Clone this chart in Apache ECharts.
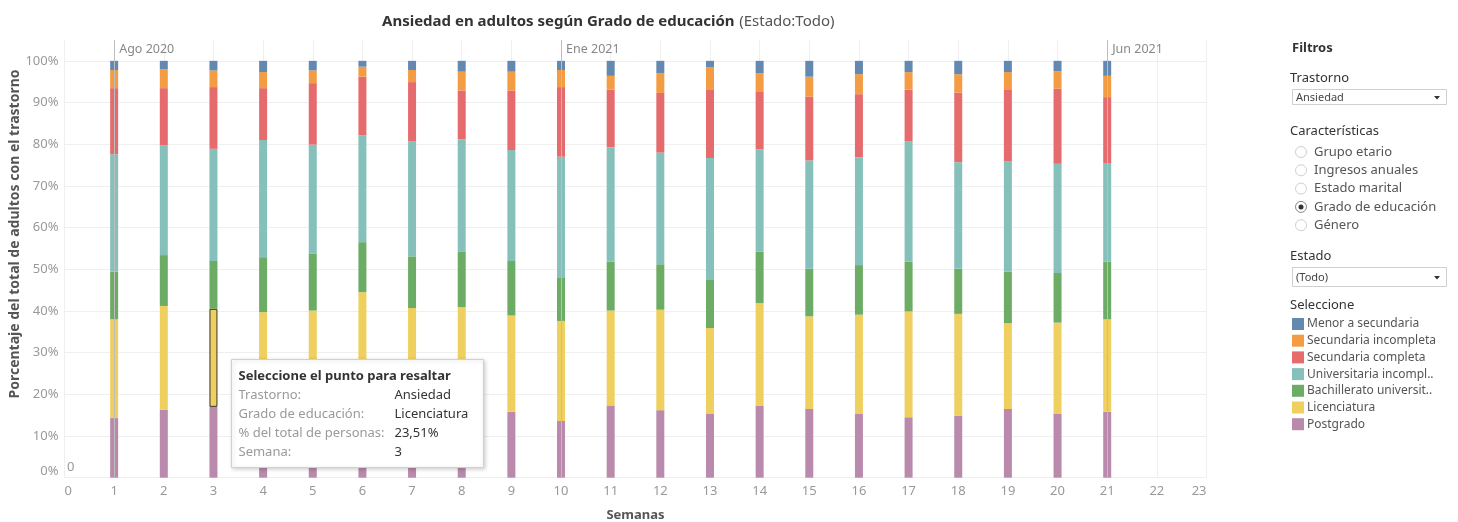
<!DOCTYPE html>
<html>
<head>
<meta charset="utf-8">
<script src="https://cdn.jsdelivr.net/npm/echarts@6/dist/echarts.min.js"></script>
<style>
html,body{margin:0;padding:0;background:#fff;}
#chart{width:1458px;height:522px;}
</style>
</head>
<body>
<div id="chart"></div>
<script>
// ---- Data (percent of adults with the disorder, by education level, per week) ----
const axisWeeks = [0,1,2,3,4,5,6,7,8,9,10,11,12,13,14,15,16,17,18,19,20,21,22,23];
const weeks = [1,2,3,4,5,6,7,8,9,10,11,12,13,14,15,16,17,18,19,20,21];
const menorSecundaria = [2.2,2.0,2.3,2.7,2.3,1.4,2.2,2.6,2.6,2.2,3.6,3.0,1.5,3.0,3.8,3.2,2.7,3.2,2.7,2.5,3.6];
const secundariaIncompleta = [4.35,4.55,4.0,3.85,3.05,2.4,2.9,4.5,4.5,4.1,3.3,4.7,5.5,4.3,4.8,4.8,4.2,4.4,4.3,4.2,5.1];
const secundariaCompleta = [15.85,13.75,14.8,12.45,14.75,14.1,14.2,11.7,14.3,16.7,13.8,14.3,16.3,13.9,15.3,15.1,12.4,16.7,17.1,18.0,15.8];
const universitariaIncompleta = [28.2,26.3,26.9,28.1,26.1,25.6,27.6,26.9,26.6,29.1,27.5,26.8,29.1,24.6,26.0,25.9,28.9,25.6,26.5,26.2,23.7];
const bachilleratoUniversitario = [11.4,12.2,11.49,13.2,13.7,12.0,12.4,13.4,13.1,10.3,11.7,10.9,11.7,12.3,11.4,11.9,11.9,10.8,12.3,11.9,13.8];
const licenciatura = [23.7,24.9,23.51,23.7,24.6,28.5,25.7,24.9,23.1,24.0,22.9,24.1,20.6,24.7,22.2,23.8,25.4,24.4,20.6,21.9,22.2];
const postgrado = [14.3,16.3,17.0,16.0,15.5,16.0,15.0,16.0,15.8,13.6,17.2,16.2,15.3,17.2,16.5,15.3,14.5,14.9,16.5,15.3,15.8];

const seriesNames = ['Postgrado','Licenciatura','Bachillerato universitario','Universitaria incompleta','Secundaria completa','Secundaria incompleta','Menor a secundaria'];
const seriesValues = [postgrado, licenciatura, bachilleratoUniversitario, universitariaIncompleta, secundariaCompleta, secundariaIncompleta, menorSecundaria];
const seriesColors = ['#b98aac','#efcf5e','#6dac64','#86c0bb','#e56b6d','#f49c44','#6389b1'];

const refWeeks = [1,10,21];
const refLabels = ['Ago 2020','Ene 2021','Jun 2021'];

const yTicks = [0,10,20,30,40,50,60,70,80,90,100];

const highlightSeries = 'Licenciatura';
const highlightWeek = 3;

const FONT = '"Noto Sans", sans-serif';

function toAxisData(arr, name){
  return axisWeeks.map(w => {
    const i = weeks.indexOf(w);
    if (i < 0) return null;
    if (name === highlightSeries && w === highlightWeek) {
      return {value: arr[i], itemStyle: {borderColor:'#333', borderWidth:1}};
    }
    return arr[i];
  });
}

const series = seriesNames.map((name, k) => {
  const s = {
    name: name,
    type: 'bar',
    stack: 'total',
    barWidth: 8,
    data: toAxisData(seriesValues[k], name),
    itemStyle: {color: seriesColors[k]},
    emphasis: {disabled: true},
    silent: true
  };
  if (k === seriesNames.length - 1) {
    s.markLine = {
      silent: true,
      symbol: ['none','none'],
      label: {show:false},
      lineStyle: {color:'#bdbdbd', type:'solid', width:1},
      data: refWeeks.map(w => ({xAxis: String(w)})),
      z: 10
    };
  }
  return s;
});

const hiIdx = weeks.indexOf(highlightWeek);
const hiVal = licenciatura[hiIdx].toFixed(2).replace('.', ',') + '%';

const tipRows = [
  ['Trastorno:', 'Ansiedad'],
  ['Grado de educación:', highlightSeries],
  ['% del total de personas:', hiVal],
  ['Semana:', String(highlightWeek)]
];

const TZ = 100;
const tipChildren = [
  {type:'rect', z:TZ, shape:{x:0,y:0,width:252,height:108}, style:{fill:'#fff', stroke:'#d0d0d0', lineWidth:1, shadowBlur:4, shadowColor:'rgba(0,0,0,0.18)', shadowOffsetX:1, shadowOffsetY:1}},
  {type:'text', z:TZ+1, x:7, y:17, style:{text:'Seleccione el punto para resaltar', font:'bold 13px '+FONT, fill:'#333', verticalAlign:'middle'}}
];
tipRows.forEach((r, i) => {
  tipChildren.push({type:'text', z:TZ+1, x:7, y:36 + i*19, style:{text:r[0], font:'13px '+FONT, fill:'#9a9a9a', verticalAlign:'middle'}});
  tipChildren.push({type:'text', z:TZ+1, x:163, y:36 + i*19, style:{text:r[1], font:'13px '+FONT, fill:'#333', verticalAlign:'middle'}});
});

const radioOpts = ['Grupo etario','Ingresos anuales','Estado marital','Grado de educación','Género'];
const radioSel = 3;

const panel = [];
panel.push({type:'text', x:1292, y:48, style:{text:'Filtros', font:'bold 13px '+FONT, fill:'#333', verticalAlign:'middle'}});
panel.push({type:'text', x:1290, y:78, style:{text:'Trastorno', font:'13px '+FONT, fill:'#333', verticalAlign:'middle'}});
panel.push({type:'rect', shape:{x:1292.5,y:89.5,width:154,height:15}, style:{fill:'#fff', stroke:'#cfcfcf', lineWidth:1}});
panel.push({type:'text', x:1296, y:97.5, style:{text:'Ansiedad', font:'11px '+FONT, fill:'#444', verticalAlign:'middle'}});
panel.push({type:'polygon', shape:{points:[[1434,96],[1440,96],[1437,99.5]]}, style:{fill:'#333'}});
panel.push({type:'text', x:1290, y:131, style:{text:'Características', font:'13px '+FONT, fill:'#333', verticalAlign:'middle'}});
radioOpts.forEach((t, i) => {
  const cy = 152 + i*18.3;
  panel.push({type:'circle', shape:{cx:1301, cy:cy, r:5.5}, style:{fill:'#fff', stroke: i===radioSel ? '#888' : '#d0d0d0', lineWidth:1}});
  if (i === radioSel) panel.push({type:'circle', shape:{cx:1301, cy:cy, r:2.5}, style:{fill:'#333'}});
  panel.push({type:'text', x:1314, y:cy, style:{text:t, font:'13px '+FONT, fill:'#555', verticalAlign:'middle'}});
});
panel.push({type:'text', x:1290, y:256, style:{text:'Estado', font:'13px '+FONT, fill:'#333', verticalAlign:'middle'}});
panel.push({type:'rect', shape:{x:1292.5,y:267.5,width:154,height:19}, style:{fill:'#fff', stroke:'#cfcfcf', lineWidth:1}});
panel.push({type:'text', x:1296, y:277.5, style:{text:'(Todo)', font:'11px '+FONT, fill:'#444', verticalAlign:'middle'}});
panel.push({type:'polygon', shape:{points:[[1434,276],[1440,276],[1437,279.5]]}, style:{fill:'#333'}});
panel.push({type:'text', x:1290, y:305, style:{text:'Seleccione', font:'13px '+FONT, fill:'#333', verticalAlign:'middle'}});

const chart = echarts.init(document.getElementById('chart'), null, {renderer:'canvas'});
chart.setOption({
  animation: false,
  backgroundColor: '#fff',
  textStyle: {fontFamily: FONT},
  title: {
    left: 377, top: 8,
    text: '{b|Ansiedad en adultos según Grado de educación} {n|(Estado:Todo)}',
    textStyle: {
      rich: {
        b: {fontFamily: FONT, fontSize: 15, fontWeight: 'bold', color: '#333'},
        n: {fontFamily: FONT, fontSize: 15, fontWeight: 'normal', color: '#555'}
      }
    }
  },
  legend: {
    orient: 'vertical',
    left: 1292, top: 318, padding: 0,
    itemWidth: 12, itemHeight: 12, itemGap: 4.7,
    icon: 'rect',
    selectedMode: false,
    data: seriesNames.slice().reverse(),
    textStyle: {fontFamily: FONT, fontSize: 12, lineHeight: 12, color: '#555', width: 131, overflow: 'truncate', ellipsis: '..', padding:[0,0,0,-2]}
  },
  grid: {left: 64.5, right: 251.5, top: 40, bottom: 44.3, containLabel: false, outerBoundsMode: 'none'},
  xAxis: [
    {
      type: 'category', data: axisWeeks.map(String), boundaryGap: false, position: 'bottom',
      name: 'Semanas', nameLocation: 'middle', nameGap: 31,
      nameTextStyle: {fontFamily: FONT, fontSize: 13, fontWeight: 'bold', color: '#555'},
      axisLine: {show: false}, axisTick: {show: false},
      axisLabel: {interval: 0, color: '#999', fontSize: 13, margin: 7, alignMinLabel: 'left', alignMaxLabel: 'right'},
      splitLine: {show: true, interval: 0, lineStyle: {color: '#efefef', width: 1}}
    },
    {
      type: 'category', data: axisWeeks.map(String), boundaryGap: false, position: 'top',
      axisLine: {show: false}, axisTick: {show: false}, splitLine: {show: false},
      axisLabel: {
        interval: 0, inside: true, margin: 3, align: 'left', verticalAlign: 'top', color: '#888', fontSize: 12.5, padding: [0,0,0,5],
        formatter: v => { const i = refWeeks.indexOf(Number(v)); return i >= 0 ? refLabels[i] : ''; }
      }
    }
  ],
  yAxis: {
    type: 'value', min: 0, max: 105, interval: 10,
    axisLine: {show: false}, axisTick: {show: false},
    axisLabel: {color: '#999', fontSize: 13, margin: 6, verticalAlignMinLabel: 'bottom',
      formatter: v => yTicks.indexOf(v) >= 0 ? v + '%' : ''},
    splitLine: {show: true, showMaxLine: false, lineStyle: {color: '#efefef', width: 1}}
  },
  series: series,
  graphic: [
    {type:'text', x:15, y:234, rotation: Math.PI/2, style:{text:'Porcentaje del total de adultos con el trastorno', font:'bold 14px '+FONT, fill:'#555', align:'center', verticalAlign:'middle'}},
    {type:'text', x:67, y:467, style:{text:'0', font:'13px '+FONT, fill:'#999', verticalAlign:'middle'}},
    {type:'group', x:231.5, y:359.5, z:TZ, children: tipChildren}
  ].concat(panel)
});
</script>
</body>
</html>
